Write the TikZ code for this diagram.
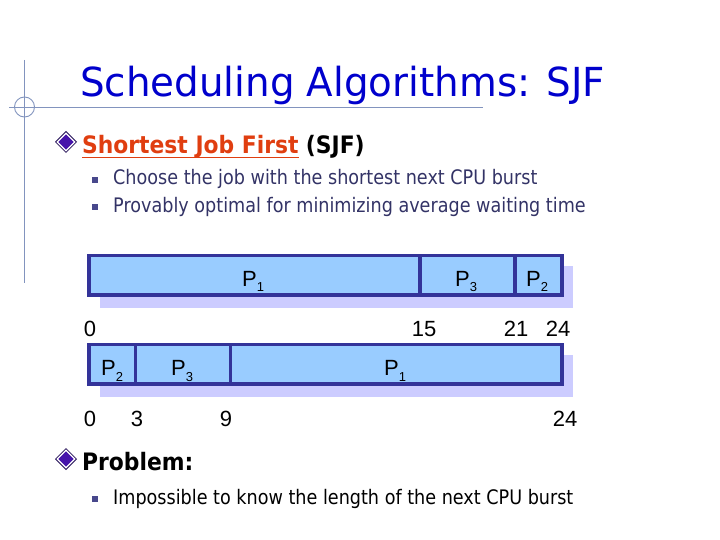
\documentclass[tikz,border=0pt]{standalone}
\usepackage{fontspec}
\setmainfont{DejaVu Sans}
\newfontfamily\titlefont{DejaVu Sans}[FakeStretch=0.97]
\newfontfamily\bodyfont{DejaVu Sans}[FakeStretch=0.88]
\newfontfamily\headfont{DejaVu Sans}[FakeStretch=0.91]
\newfontfamily\ganttfont{Liberation Sans}
\definecolor{titleblue}{RGB}{0,0,204}
\definecolor{decoline}{RGB}{130,148,190}
\definecolor{sjfred}{RGB}{224,62,16}
\definecolor{subtext}{RGB}{51,51,102}
\definecolor{subsq}{RGB}{72,72,140}
\definecolor{dianavy}{RGB}{40,20,90}
\definecolor{diapurple}{RGB}{70,20,170}
\definecolor{barborder}{RGB}{51,51,153}
\definecolor{barfill}{RGB}{153,204,255}
\definecolor{barshadow}{RGB}{204,204,255}
\newcommand\psub[1]{P\raisebox{-5.5pt}{\fontsize{13}{13}\selectfont #1}}
\tikzset{
  titletext/.style={anchor=base west,inner sep=0,text=titleblue,font=\titlefont\fontsize{40}{48}\selectfont},
  lvlone/.style={anchor=base west,inner sep=0,font=\headfont\bfseries\fontsize{24}{28}\selectfont},
  lvltwo/.style={anchor=base west,inner sep=0,font=\bodyfont\fontsize{20}{24}\selectfont},
  plabel/.style={anchor=base west,inner sep=0,font=\ganttfont\fontsize{22}{26}\selectfont},
  tlabel/.style={anchor=base,inner sep=0,font=\ganttfont\fontsize{22}{26}\selectfont},
  bar/.style={fill=barfill,draw=barborder,line width=3.4pt},
  divider/.style={draw=barborder,line width=3.4pt},
  shadowbox/.style={fill=barshadow},
  deco/.style={draw=decoline,line width=0.9pt},
  diabul/.pic={
    \fill[dianavy] (0,-11)--(11,0)--(0,11)--(-11,0)--cycle;
    \fill[white] (0,-9.6)--(9.6,0)--(0,9.6)--(-9.6,0)--cycle;
    \fill[diapurple] (0,-7.6)--(7.6,0)--(0,7.6)--(-7.6,0)--cycle;
  },
  sqbul/.pic={\fill[subsq] (-3,-3) rectangle (3,3);}
}
\begin{document}
\begin{tikzpicture}[x=1pt,y=-1pt]
\useasboundingbox (0,0) rectangle (720,540);
% decoration
\draw[deco] (24.5,60) -- (24.5,283);
\draw[deco] (9,107) -- (483,107);
\draw[deco] (24.5,107) circle (10);
% title
\node[titletext] (title) at (80,97) {Scheduling Algorithms: SJF};
% first bullet
\pic at (66,142) {diabul};
\node[lvlone,text=sjfred] (sjf) at (82,154) {Shortest Job First};
\node[lvlone,anchor=base west] (sjfabbr) at ([xshift=7pt]sjf.base east) {(SJF)};
\draw[sjfred,line width=1.8pt] ([yshift=-3.5pt]sjf.base west) -- ([yshift=-3.5pt]sjf.base east);
\pic at (95,180) {sqbul};
\node[lvltwo,text=subtext] (choose) at (113,185) {Choose the job with the shortest next CPU burst};
\pic at (95,207) {sqbul};
\node[lvltwo,text=subtext] (prov) at (113,212) {Provably optimal for minimizing average waiting time};
% top gantt
\fill[shadowbox] (100,266) rectangle (573,308);
\draw[bar] (89,255.7) rectangle (562,295);
\draw[divider] (420,255.7) -- (420,295);
\draw[divider] (515,255.7) -- (515,295);
\node[plabel] (ta) at (242,286.5) {\psub{1}};
\node[plabel] (tb) at (455,286.5) {\psub{3}};
\node[plabel] (tc) at (526,286.5) {\psub{2}};
\node[tlabel] (t0) at (90,336) {0};
\node[tlabel] (t15) at (424,336) {15};
\node[tlabel] (t21) at (516,336) {21};
\node[tlabel] (t24) at (558,336) {24};
% bottom gantt
\fill[shadowbox] (100,355) rectangle (573,397);
\draw[bar] (89,344.3) rectangle (562,384);
\draw[divider] (135.7,344.3) -- (135.7,384);
\draw[divider] (230.7,344.3) -- (230.7,384);
\node[plabel] (ba) at (101,375.5) {\psub{2}};
\node[plabel] (bb) at (171,375.5) {\psub{3}};
\node[plabel] (bc) at (384,375.5) {\psub{1}};
\node[tlabel] (b0) at (90,426) {0};
\node[tlabel] (b3) at (137,426) {3};
\node[tlabel] (b9) at (226,426) {9};
\node[tlabel] (b24) at (565,426) {24};
% problem
\pic at (66,459) {diabul};
\node[lvlone] (prob) at (82,470) {Problem:};
\pic at (95,499) {sqbul};
\node[lvltwo] (imp) at (113,504) {Impossible to know the length of the next CPU burst};
\end{tikzpicture}
\end{document}
